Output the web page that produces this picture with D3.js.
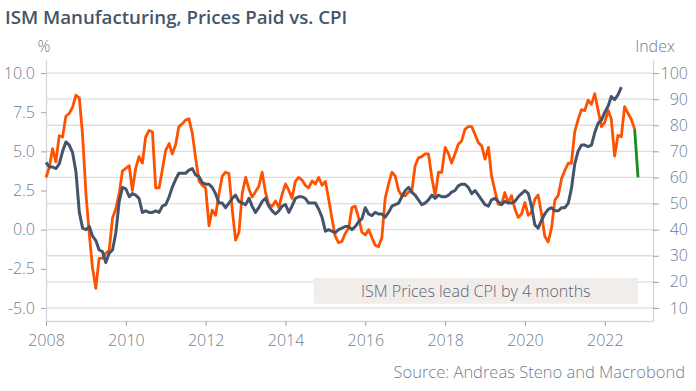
<!DOCTYPE html>
<meta charset="utf-8" />
<script src="https://d3js.org/d3.v7.min.js"></script>
<style>
  body { margin: 0; background: #fff; }
  text { font-family: "Open Sans", "Noto Sans", sans-serif; }
</style>
<div id="chart"></div>
<script>
  // US CPI y/y %, monthly from Jan 2008
  const cpiStart = new Date(2008, 0, 1);
  const cpi = [
    4.3, 4.0, 4.0, 3.9, 4.2, 5.0, 5.6, 5.4, 4.9, 3.7, 1.1, 0.1,
    0.0, 0.2, -0.4, -0.7, -1.3, -1.4, -2.1, -1.5, -1.3, -0.2, 1.8, 2.7,
    2.6, 2.1, 2.3, 2.2, 2.0, 1.1, 1.2, 1.1, 1.1, 1.2, 1.1, 1.5,
    1.6, 2.1, 2.7, 3.2, 3.6, 3.6, 3.6, 3.8, 3.9, 3.5, 3.4, 3.0,
    2.9, 2.9, 2.7, 2.3, 1.7, 1.7, 1.4, 1.7, 2.0, 2.2, 1.8, 1.7,
    1.6, 2.0, 1.5, 1.1, 1.4, 1.8, 2.0, 1.5, 1.2, 1.0, 1.2, 1.5,
    1.6, 1.1, 1.5, 2.0, 2.1, 2.1, 2.0, 1.7, 1.7, 1.7, 1.3, 0.8,
    -0.1, 0.0, -0.1, -0.2, 0.0, 0.1, 0.2, 0.2, 0.0, 0.2, 0.5, 0.7,
    1.4, 1.0, 0.9, 1.1, 1.0, 1.0, 0.8, 1.1, 1.5, 1.6, 1.7, 2.1,
    2.5, 2.7, 2.4, 2.2, 1.9, 1.6, 1.7, 1.9, 2.2, 2.0, 2.2, 2.1,
    2.1, 2.2, 2.4, 2.5, 2.8, 2.9, 2.9, 2.7, 2.3, 2.5, 2.2, 1.9,
    1.6, 1.5, 1.9, 2.0, 1.8, 1.6, 1.8, 1.7, 1.7, 1.8, 2.1, 2.3,
    2.5, 2.3, 1.5, 0.3, 0.1, 0.6, 1.0, 1.3, 1.4, 1.2, 1.2, 1.4,
    1.4, 1.7, 2.6, 4.2, 5.0, 5.4, 5.4, 5.3, 5.4, 6.2, 6.8, 7.0,
    7.5, 7.9, 8.5, 8.3, 8.6, 9.1
  ];

  // ISM manufacturing prices paid index, monthly from Sep 2007, plotted 4 months ahead
  const ismStart = new Date(2007, 8, 1);
  const ismLead = 4;
  const ism = [
    60.0, 64.0, 71.0, 66.0,
    76.0, 75.5, 83.5, 84.5, 87.0, 91.5, 90.5, 76.0, 53.5, 38.0, 25.5, 17.5,
    29.0, 29.0, 31.0, 32.0, 44.5, 48.0, 54.0, 62.5, 63.5, 64.5, 55.0, 63.5,
    68.0, 65.5, 75.5, 78.0, 77.5, 56.0, 56.0, 63.0, 70.5, 73.0, 69.0, 72.5,
    79.5, 80.5, 82.0, 82.5, 77.0, 67.5, 58.7, 57.0, 56.0, 41.5, 47.5, 45.5,
    53.5, 60.5, 62.0, 61.5, 47.5, 36.0, 39.0, 54.0, 60.0, 55.5, 52.5, 54.5,
    56.5, 62.0, 54.5, 49.5, 49.0, 51.0, 48.5, 53.5, 57.5, 55.0, 52.0, 58.5,
    60.0, 59.0, 57.0, 56.0, 58.7, 57.5, 60.0, 57.0, 58.5, 51.5, 44.5, 37.5,
    35.0, 35.5, 38.5, 40.5, 48.5, 49.0, 44.5, 39.0, 38.0, 40.0, 37.0, 34.0,
    33.5, 37.0, 52.0, 57.5, 62.0, 60.5, 55.0, 53.0, 53.0, 54.5, 54.5, 64.5,
    67.5, 68.0, 69.0, 69.0, 60.0, 53.0, 62.0, 62.0, 71.5, 69.0, 65.5, 69.0,
    72.7, 74.0, 78.4, 79.5, 79.5, 76.5, 73.3, 72.1, 67.0, 71.5, 60.7, 55.0,
    49.8, 49.6, 54.2, 50.4, 53.0, 47.9, 44.7, 46.0, 50.4, 45.5, 46.7, 51.7,
    53.3, 45.9, 37.4, 35.3, 40.8, 51.3, 53.2, 59.5, 62.8, 65.5, 65.4, 77.6,
    82.1, 86.0, 85.6, 89.6, 88.0, 92.1, 85.7, 79.4, 81.2, 85.7, 82.4, 68.2,
    76.1, 75.6, 87.1, 84.6, 82.2, 78.5, 60.0
  ];

  const xTicks = [2008, 2010, 2012, 2014, 2016, 2018, 2020, 2022];
  const leftTicks = [-5, -2.5, 0, 2.5, 5, 7.5, 10];
  const rightTicks = [10, 20, 30, 40, 50, 60, 70, 80, 90, 100];

  const W = 696, H = 391;
  const margin = { top: 60, right: 43, bottom: 70, left: 46 };
  const width = W - margin.left - margin.right,
    height = H - margin.top - margin.bottom;

  const svg = d3.select("#chart").append("svg")
    .attr("width", W).attr("height", H);

  const g = svg.append("g")
    .attr("transform", `translate(${margin.left},${margin.top})`);

  const x = d3.scaleTime()
    .domain([new Date(2008, 0, 1), new Date(2023, 2, 18)])
    .range([0, width]);
  // right axis (index) drives the grid; left axis (%) is the same scale: idx = 40 + 6 * pct
  const yR = d3.scaleLinear().domain([5, 105]).range([height, 0]);
  const yL = d3.scaleLinear().domain([(5 - 40) / 6, (105 - 40) / 6]).range([height, 0]);

  const axisCol = "#d3d7dd", labCol = "#6e7d92";

  // gridlines
  g.append("g").selectAll("line").data(rightTicks).join("line")
    .attr("x1", 0).attr("x2", width)
    .attr("y1", d => yR(d)).attr("y2", d => yR(d))
    .attr("stroke", "#dedede").attr("stroke-width", 1.3);

  // annotation box
  const boxX0 = x(new Date(2014, 8, 15)), boxX1 = x(new Date(2022, 10, 1));
  g.append("rect")
    .attr("x", boxX0).attr("y", yR(21.5))
    .attr("width", boxX1 - boxX0).attr("height", yR(11.6) - yR(21.5))
    .attr("fill", "#f1edeb");
  g.append("text")
    .attr("x", (boxX0 + boxX1) / 2).attr("y", yR(16.5))
    .attr("dy", "0.35em").attr("text-anchor", "middle")
    .attr("fill", "#5d6470").style("font-size", "16px").style("font-weight", 300)
    .text("ISM Prices lead CPI by 4 months");

  // axes
  const xAxis = g.append("g").attr("transform", `translate(0,${height})`)
    .call(d3.axisBottom(x).tickValues(xTicks.map(y => new Date(y, 0, 1)))
      .tickFormat(d3.timeFormat("%Y")).tickSize(5).tickSizeOuter(0));
  const yAxisL = g.append("g")
    .call(d3.axisLeft(yL).tickValues(leftTicks).tickFormat(d => d.toFixed(1))
      .tickSize(5).tickSizeOuter(0));
  const yAxisR = g.append("g").attr("transform", `translate(${width},0)`)
    .call(d3.axisRight(yR).tickValues(rightTicks).tickSize(6).tickSizeOuter(0));

  [xAxis, yAxisL, yAxisR].forEach(a => {
    a.select(".domain").attr("stroke", axisCol).attr("stroke-width", 1.3);
    a.selectAll(".tick line").attr("stroke", "#9aa3ae");
    a.selectAll(".tick text").attr("fill", labCol)
      .style("font-size", "16px").style("font-weight", 300)
      .style("font-family", "'Open Sans', sans-serif");
  });
  xAxis.selectAll(".tick text").attr("dy", "1.05em");
  yAxisL.selectAll(".tick text").attr("x", -11);
  yAxisR.selectAll(".tick text").attr("text-anchor", "end").attr("x", 35);

  // series
  const cpiData = cpi.map((v, i) => ({ date: d3.timeMonth.offset(cpiStart, i), v }));
  const ismData = ism.map((v, i) => ({ date: d3.timeMonth.offset(ismStart, i + ismLead), v }));
  const n = ismData.length;

  const lineR = d3.line().x(d => x(d.date)).y(d => yR(d.v));
  const lineL = d3.line().x(d => x(d.date)).y(d => yL(d.v));

  g.append("path").datum(ismData.slice(0, n - 1))
    .attr("d", lineR).attr("fill", "none")
    .attr("stroke", "#ff5200").attr("stroke-width", 2.8).attr("stroke-linejoin", "round");
  g.append("path").datum(ismData.slice(n - 2))
    .attr("d", lineR).attr("fill", "none")
    .attr("stroke", "#178a17").attr("stroke-width", 2.8);
  g.append("path").datum(cpiData)
    .attr("d", lineL).attr("fill", "none")
    .attr("stroke", "#44546a").attr("stroke-width", 3).attr("stroke-linejoin", "round");

  // titles
  svg.append("text").attr("x", 5).attr("y", 24)
    .attr("fill", "#44546a").style("font-size", "18.7px").style("font-weight", 600)
    .text("ISM Manufacturing, Prices Paid vs. CPI");
  svg.append("text").attr("x", 44).attr("y", 52).attr("text-anchor", "middle")
    .attr("fill", labCol).style("font-size", "16px").style("font-weight", 300)
    .text("%");
  svg.append("text").attr("x", 655).attr("y", 52).attr("text-anchor", "middle")
    .attr("fill", labCol).style("font-size", "16px").style("font-weight", 300)
    .text("Index");
  svg.append("text").attr("x", 685).attr("y", 378).attr("text-anchor", "end")
    .attr("fill", labCol).style("font-size", "16.5px").style("font-weight", 300)
    .text("Source: Andreas Steno and Macrobond");
</script>
